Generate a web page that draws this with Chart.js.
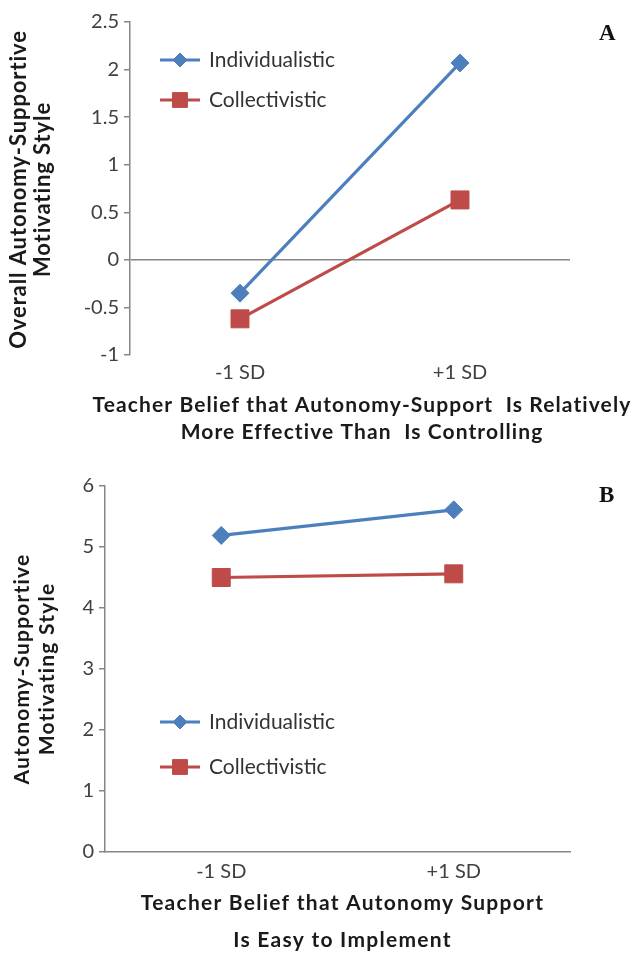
<!DOCTYPE html>
<html>
<head>
<meta charset="utf-8">
<script src="https://cdn.jsdelivr.net/npm/chart.js@4/dist/chart.umd.min.js"></script>
<style>
  html, body { margin: 0; padding: 0; background: #fff; overflow: hidden; }
  body { width: 634px; height: 953px; position: relative; }
  .wrap { position: absolute; left: 0; width: 634px; }
  #wa { top: 0; height: 460px; }
  #wb { top: 460px; height: 493px; }
  .panel { position: absolute; font-family: "Liberation Serif", "DejaVu Serif", serif; font-weight: bold; font-size: 23px; color: #111; }
</style>
</head>
<body>
<div class="wrap" id="wa"><canvas id="ca" width="634" height="460"></canvas></div>
<div class="wrap" id="wb"><canvas id="cb" width="634" height="493"></canvas></div>
<div class="panel" style="left:599px; top:20px;">A</div>
<div class="panel" style="left:599px; top:482px;">B</div>
<script>
// ---- data ----
const categories = ['-1 SD', '+1 SD'];
const seriesNames = ['Individualistic', 'Collectivistic'];
const individualisticA = [-0.35, 2.07];
const collectivisticA = [-0.62, 0.63];
const individualisticB = [5.19, 5.61];
const collectivisticB = [4.50, 4.56];
const yTitleA = ['Overall Autonomy-Supportive', 'Motivating Style'];
const xTitleA = ['Teacher Belief that Autonomy-Support  Is Relatively', 'More Effective Than  Is Controlling'];
const yTitleB = ['Autonomy-Supportive', 'Motivating Style'];
const xTitleB = ['Teacher Belief that Autonomy Support', 'Is Easy to Implement'];

// ---- styles ----
const BLUE = '#4C7FBC';
const RED = '#BE4B48';
const AXIS = '#868686';
const TICKTXT = '#404040';
const TITLETXT = '#1a1a1a';
const FONT = 'Lato, "Open Sans", sans-serif';

// legend drawn inside the plot area (line + marker + label)
const inlineLegend = {
  id: 'inlineLegend',
  afterDatasetsDraw(chart, args, opts) {
    const ctx = chart.ctx;
    const ca = chart.chartArea;
    ctx.save();
    chart.data.datasets.forEach((ds, i) => {
      const y = ca.top + opts.dy[i];
      const x0 = ca.left + opts.dx;
      const x1 = x0 + 40;
      ctx.strokeStyle = ds.borderColor;
      ctx.lineWidth = 3;
      ctx.beginPath(); ctx.moveTo(x0, y); ctx.lineTo(x1, y); ctx.stroke();
      ctx.fillStyle = ds.backgroundColor;
      ctx.strokeStyle = ds.borderColor;
      ctx.lineWidth = 1;
      Chart.helpers.drawPoint(ctx, {pointStyle: ds.pointStyle, radius: opts.radius[i], borderWidth: 1}, (x0 + x1) / 2, y);
      ctx.fillStyle = '#333';
      ctx.font = '21px ' + FONT;
      ctx.textBaseline = 'middle';
      ctx.textAlign = 'left';
      ctx.fillText(ds.label, x1 + 9, y);
    });
    ctx.restore();
  }
};

// axis titles (multi-line, may be wider than the plot area)
const axisTitles = {
  id: 'axisTitles',
  afterDraw(chart, args, o) {
    const ctx = chart.ctx;
    const ca = chart.chartArea;
    ctx.save();
    ctx.fillStyle = TITLETXT;
    ctx.textAlign = 'center';
    ctx.textBaseline = 'middle';
    // x title
    ctx.font = 'bold ' + o.x.size + 'px ' + FONT;
    if ('letterSpacing' in ctx) ctx.letterSpacing = o.x.spacing + 'px';
    const cx = (ca.left + ca.right) / 2 + o.x.dx;
    o.x.text.forEach((t, i) => ctx.fillText(t, cx, ca.bottom + o.x.dy[i]));
    // y title (rotated)
    ctx.font = 'bold ' + o.y.size + 'px ' + FONT;
    if ('letterSpacing' in ctx) ctx.letterSpacing = o.y.spacing + 'px';
    const cy = (ca.top + ca.bottom) / 2 + o.y.dy;
    o.y.text.forEach((t, i) => {
      ctx.save();
      ctx.translate(o.y.x[i], cy);
      ctx.rotate(-Math.PI / 2);
      ctx.fillText(t, 0, 0);
      ctx.restore();
    });
    ctx.restore();
  }
};

function makeDatasets(ind, col) {
  return [
    { label: seriesNames[0], data: ind, borderColor: BLUE, backgroundColor: BLUE, borderWidth: 3.2,
      pointStyle: 'rectRot', pointRadius: 9, pointBorderWidth: 1, pointHoverRadius: 9 },
    { label: seriesNames[1], data: col, borderColor: RED, backgroundColor: RED, borderWidth: 3.2,
      pointStyle: 'rect', pointRadius: 12.7, pointBorderWidth: 1, pointHoverRadius: 12.7 }
  ];
}

function makeChart(id, cfg) {
  return new Chart(document.getElementById(id), {
    type: 'line',
    data: { labels: categories, datasets: makeDatasets(cfg.ind, cfg.col) },
    plugins: [inlineLegend, axisTitles],
    options: {
      responsive: false,
      animation: false,
      layout: { padding: { top: cfg.top, right: 64, left: 0, bottom: 0 } },
      plugins: {
        legend: { display: false },
        tooltip: { enabled: false },
        inlineLegend: cfg.legend,
        axisTitles: cfg.titles
      },
      scales: {
        x: {
          type: 'category',
          offset: true,
          grid: { display: cfg.xBorder, drawOnChartArea: false, drawTicks: false },
          border: { display: cfg.xBorder, color: AXIS, width: 1.5 },
          ticks: { color: TICKTXT, font: { family: FONT, size: 20 }, padding: cfg.xTickPad, maxRotation: 0 },
          title: { display: false },
          afterFit(s) { s.height = cfg.xHeight; }
        },
        y: {
          min: cfg.min, max: cfg.max,
          ticks: { stepSize: cfg.step, color: TICKTXT, font: { family: FONT, size: 20 }, padding: 5,
                   callback: v => String(v) },
          grid: { drawOnChartArea: cfg.zeroLine, tickLength: 6, tickColor: AXIS, lineWidth: 1.5,
                  color: c => (cfg.zeroLine && c.tick && c.tick.value === 0) ? AXIS : 'rgba(0,0,0,0)' },
          border: { display: true, color: AXIS, width: 1.5 },
          title: { display: false },
          afterFit(s) { s.width = cfg.yWidth; }
        }
      }
    }
  });
}

makeChart('ca', {
  ind: individualisticA, col: collectivisticA,
  min: -1, max: 2.5, step: 0.5, zeroLine: true, xBorder: false,
  top: 22, yWidth: 130, xHeight: 105, xTickPad: 6,
  titles: {
    x: { text: xTitleA, size: 21, spacing: 1.1, dx: 12, dy: [50, 77] },
    y: { text: yTitleA, size: 22, spacing: 0.9, x: [19, 43], dy: 1 }
  },
  legend: { dx: 30, dy: [38, 78], radius: [7, 10.5] }
});

makeChart('cb', {
  ind: individualisticB, col: collectivisticB,
  min: 0, max: 6, step: 1, zeroLine: false, xBorder: true,
  top: 26, yWidth: 105, xHeight: 101, xTickPad: 8,
  titles: {
    x: { text: xTitleB, size: 21, spacing: 1.25, dx: 5, dy: [51, 88] },
    y: { text: yTitleB, size: 21, spacing: 1.2, x: [22, 47], dy: 0 }
  },
  legend: { dx: 55, dy: [236, 281], radius: [7, 10.5] }
});
</script>
</body>
</html>
